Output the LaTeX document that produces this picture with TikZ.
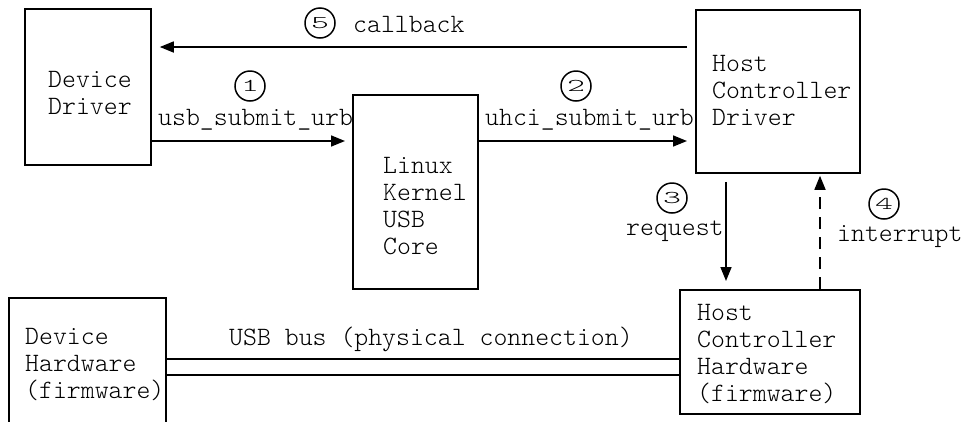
\documentclass[tikz,border=0pt]{standalone}
\usepackage{fontspec}
\usepackage{graphicx}
\setmainfont{Latin Modern Mono Light}
\usetikzlibrary{arrows.meta}

% several lines of text, baseline on the first line
\newcommand\boxlines[1]{\begin{tabular}[t]{@{}l@{}}#1\end{tabular}}
% step number in a circle
\newcommand\stepnum[1]{\scalebox{1.9}[1]{\fontsize{18}{18}\selectfont #1}}

\tikzset{
  unit/.style={draw, line width=1.8pt, inner sep=0pt, anchor=north west},
  txt/.style={inner sep=0pt, anchor=base west},
  num/.style={circle, draw, line width=1.5pt, minimum size=30pt, inner sep=0pt},
  flow/.style={line width=1.6pt, -{Triangle[length=14pt,width=11pt]}},
  bus/.style={line width=1.5pt},
}

\begin{document}
\begin{tikzpicture}[x=1pt, y=-1pt, font=\fontsize{26.5}{27}\selectfont]
\clip (0,0) rectangle (963,421);
\fill[white] (0,0) rectangle (963,421);

% boxes
\node[unit, minimum width=126pt, minimum height=156pt] (dd)   at (24,8)   {};
\node[unit, minimum width=125pt, minimum height=194pt] (core) at (352,94) {};
\node[unit, minimum width=164pt, minimum height=163pt] (hcd)  at (695,9)  {};
\node[unit, minimum width=180pt, minimum height=124pt] (hch)  at (679,289) {};
\node[unit, minimum width=157pt, minimum height=160pt] (dh)   at (8,297)  {};

% box texts
\node[txt] (ddtext)   at (48,87)   {\boxlines{Device\\Driver}};
\node[txt] (coretext) at (383,173) {\boxlines{Linux\\Kernel\\USB\\Core}};
\node[txt] (hcdtext)  at (712,71)  {\boxlines{Host\\Controller\\Driver}};
\node[txt] (hchtext)  at (697,320) {\boxlines{Host\\Controller\\Hardware\\(firmware)}};
\node[txt] (dhtext)   at (25,344)  {\boxlines{Device\\Hardware\\(firmware)}};

% calls between the software layers
\draw[flow] ([xshift=-8pt]hcd.west |- 0,47) -- ([xshift=8pt]dd.east |- 0,47);
\draw[flow] (dd.east |- 0,141) -- ([xshift=-7pt]core.west |- 0,141);
\draw[flow] (core.east |- 0,141) -- ([xshift=-8pt]hcd.west |- 0,141);
\draw[flow] ([yshift=-8pt]hcd.south -| 726,0) -- ([yshift=8pt]hch.north -| 726,0);
\draw[flow, dash pattern=on 12pt off 8pt] (hch.north -| 820,0) -- ([yshift=-2pt]hcd.south -| 820,0);

% physical bus
\draw[bus] (dh.east |- 0,359) -- (hch.west |- 0,359);
\draw[bus] (dh.east |- 0,375) -- (hch.west |- 0,375);

% labels
\node[txt] (lcallback) at (353,32)  {callback};
\node[txt] (lusb)      at (158,125) {usb\_submit\_urb};
\node[txt] (luhci)     at (485,125) {uhci\_submit\_urb};
\node[txt] (lrequest)  at (626,235) {request};
\node[txt] (lirq)      at (837,241) {interrupt};
\node[txt] (lbus)      at (229,345) {USB bus (physical connection)};

% step numbers
\node[num] (n5) at (320,23)  {\stepnum{5}};
\node[num] (n1) at (250,86)  {\stepnum{1}};
\node[num] (n2) at (576,86)  {\stepnum{2}};
\node[num] (n3) at (672,198) {\stepnum{3}};
\node[num] (n4) at (884,204) {\stepnum{4}};
\end{tikzpicture}
\end{document}
